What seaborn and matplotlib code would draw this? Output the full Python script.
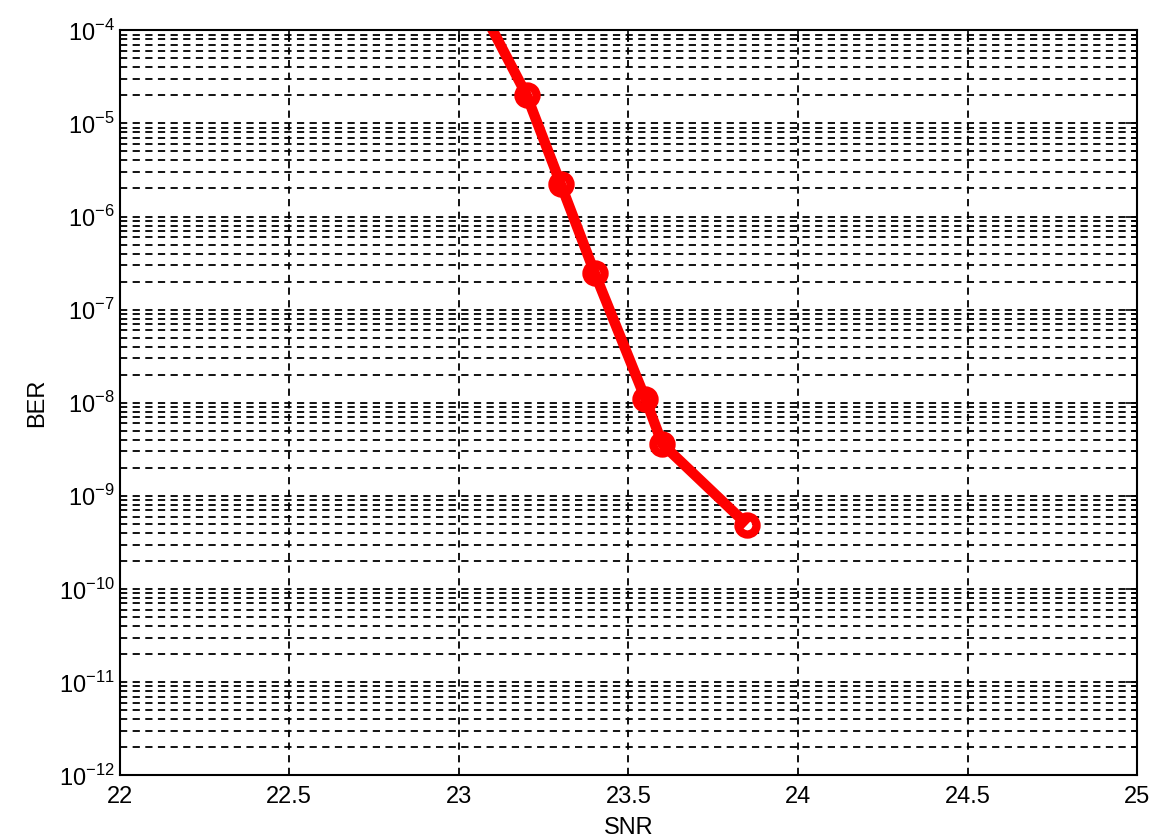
import numpy as np
import pandas as pd
import matplotlib
matplotlib.use("Agg")
import matplotlib.pyplot as plt
import seaborn as sns
from matplotlib.ticker import LogLocator, NullFormatter

# Datos
snr = [23.0, 23.2, 23.3, 23.4, 23.55, 23.6, 23.85]
ber = [5.0e-4, 2.0e-5, 2.25e-6, 2.5e-7, 1.1e-8, 3.6e-9, 4.9e-10]
x_ticks = [22, 22.5, 23, 23.5, 24, 24.5, 25]
y_exps = [-12, -11, -10, -9, -8, -7, -6, -5, -4]

df = pd.DataFrame({"SNR": snr, "BER": ber})

sns.set_style("white")
plt.rcParams['font.family'] = ['Liberation Sans', 'DejaVu Sans']
plt.rcParams['mathtext.fontset'] = 'custom'
plt.rcParams['mathtext.rm'] = 'Liberation Sans'
plt.rcParams['text.color'] = 'black'
plt.rcParams['axes.labelcolor'] = 'black'

fig, ax = plt.subplots(figsize=(11.5, 8.4), dpi=100)
fig.subplots_adjust(left=0.104, right=0.989, top=0.964, bottom=0.077)

sns.lineplot(data=df, x="SNR", y="BER", ax=ax, color="#ff0000",
             linewidth=7.5, marker="o", markersize=13,
             markerfacecolor="none", markeredgecolor="#ff0000",
             markeredgewidth=6, solid_capstyle="butt")

ax.set_yscale("log")
ax.set_xlim(22, 25)
ax.set_ylim(1e-12, 1e-4)
ax.set_xticks(x_ticks)
ax.set_xticklabels([f"{v:g}" for v in x_ticks])
ax.set_yticks([10.0 ** e for e in y_exps])
ax.set_yticklabels([f"$10^{{{e}}}$" for e in y_exps])
ax.yaxis.set_minor_locator(LogLocator(base=10, subs=np.arange(2, 10), numticks=50))
ax.yaxis.set_minor_formatter(NullFormatter())

dash = (0, (4, 3))
ax.grid(True, which="major", axis="both", color="black", linestyle=dash, linewidth=1.3)
ax.grid(True, which="minor", axis="y", color="black", linestyle=dash, linewidth=1.3)
ax.set_axisbelow(True)

for s in ax.spines.values():
    s.set_color("black")
    s.set_linewidth(1.5)

ax.tick_params(axis="both", which="both", direction="in", top=True, right=True,
               colors="black", labelsize=17, width=1.2)
ax.tick_params(which="major", length=8)
ax.tick_params(which="minor", length=4)
ax.tick_params(axis="x", pad=8)

ax.set_xlabel("SNR", fontsize=17, labelpad=6, color="black")
ax.set_ylabel("BER", fontsize=17, labelpad=8, color="black")

plt.savefig("out.png", dpi=100)
plt.close()
